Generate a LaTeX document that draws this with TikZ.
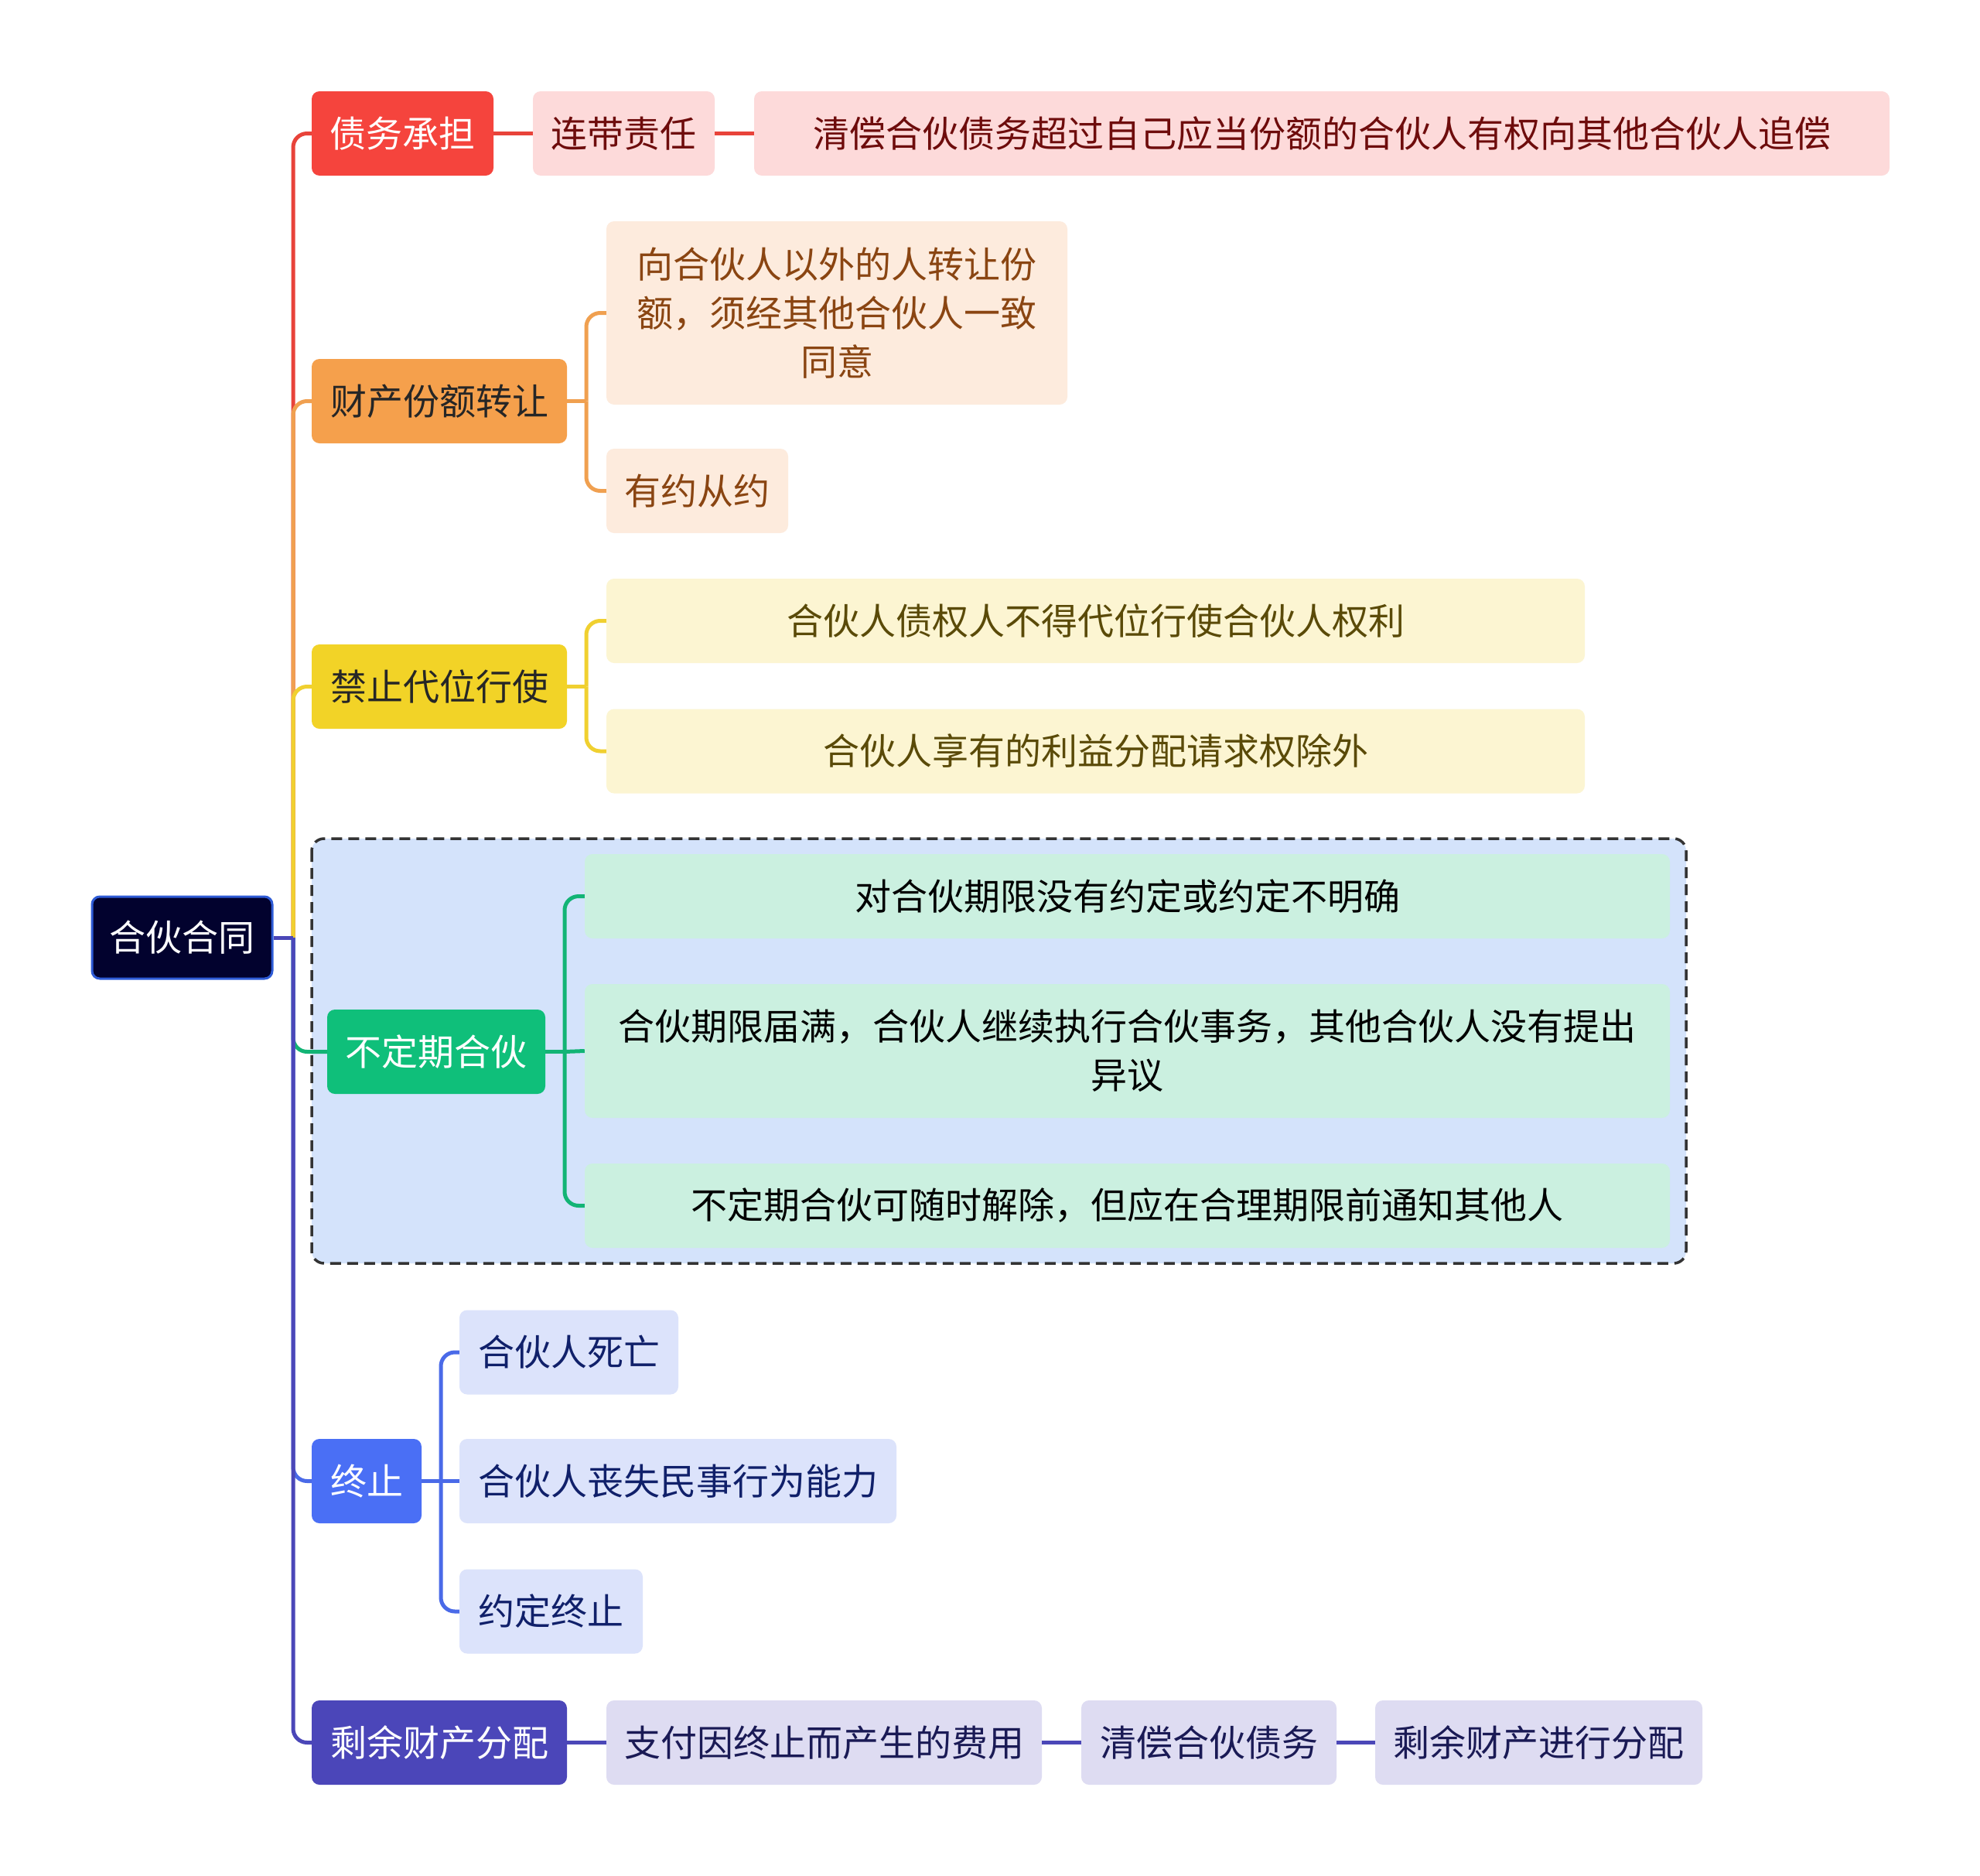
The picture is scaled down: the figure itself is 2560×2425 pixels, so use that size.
\documentclass[tikz,border=0pt]{standalone}
\usepackage{fontspec}
\newfontfamily\cjk{Noto Sans CJK SC}
\definecolor{rootfill}{HTML}{02022E}
\definecolor{rootdraw}{HTML}{2E5BD6}
\definecolor{cred}{HTML}{F5443D}
\definecolor{lred}{HTML}{E8433A}
\definecolor{pred}{HTML}{FDDADA}
\definecolor{tred}{HTML}{6E0C0C}
\definecolor{corange}{HTML}{F5A04C}
\definecolor{lorange}{HTML}{F0A050}
\definecolor{porange}{HTML}{FDEBDD}
\definecolor{torange}{HTML}{8A4512}
\definecolor{cyellow}{HTML}{F2D327}
\definecolor{lyellow}{HTML}{F0D030}
\definecolor{pyellow}{HTML}{FCF5D2}
\definecolor{tyellow}{HTML}{5A4A08}
\definecolor{cgreen}{HTML}{0FBF7A}
\definecolor{lgreen}{HTML}{12B475}
\definecolor{pgreen}{HTML}{CBF0E0}
\definecolor{cblue}{HTML}{4A6FF5}
\definecolor{lblue}{HTML}{4A6AE8}
\definecolor{pblue}{HTML}{DCE3FB}
\definecolor{tblue}{HTML}{10206A}
\definecolor{cpurple}{HTML}{4B46B9}
\definecolor{lpurple}{HTML}{4B47B8}
\definecolor{ppurple}{HTML}{DEDCF2}
\definecolor{tpurple}{HTML}{1A1A55}
\definecolor{boxfill}{HTML}{D4E3FB}
\definecolor{boxdraw}{HTML}{333333}
\tikzset{
  mm/.style={rounded corners=10pt, inner sep=0pt, align=center,
    font=\cjk\fontsize{47}{63}\selectfont, minimum height=109pt},
  conn/.style={line width=5pt},
  forkc/.style={line width=5pt, rounded corners=18pt},
}
\begin{document}
\begin{tikzpicture}[x=1pt,y=-1pt]
\useasboundingbox[fill=white] (0,0) rectangle (2560,2425);
% dashed group box
\draw[fill=boxfill, draw=boxdraw, line width=3.5pt, dash pattern=on 14pt off 8pt, rounded corners=16pt]
  (403,1084) rectangle (2180,1633);

% nodes
\node[mm, fill=rootfill, draw=rootdraw, line width=3pt, text=white, minimum width=233pt, minimum height=106pt] (root) at (235.5,1212) {合伙合同};

\node[mm, fill=cred, text=white, minimum width=235pt] (b1) at (520.5,172.5) {债务承担};
\node[mm, fill=pred, text=tred, minimum width=235pt] (c11) at (806.5,172.5) {连带责任};
\node[mm, fill=pred, text=tred, minimum width=1468pt] (c12) at (1709,172.5) {清偿合伙债务超过自己应当份额的合伙人有权向其他合伙人追偿};

\node[mm, fill=corange, text=black!85, minimum width=330pt] (b2) at (568,518.5) {财产份额转让};
\node[mm, fill=porange, text=torange, minimum width=596pt, minimum height=237pt] (c21) at (1082,404.5) {向合伙人以外的人转让份\\额，须经其他合伙人一致\\同意};
\node[mm, fill=porange, text=torange, minimum width=235pt] (c22) at (901.5,634.5) {有约从约};

\node[mm, fill=cyellow, text=black!85, minimum width=330pt] (b3) at (568,887.5) {禁止代位行使};
\node[mm, fill=pyellow, text=tyellow, minimum width=1265pt] (c31) at (1416.5,802.5) {合伙人债权人不得代位行使合伙人权利};
\node[mm, fill=pyellow, text=tyellow, minimum width=1265pt] (c32) at (1416.5,971) {合伙人享有的利益分配请求权除外};

\node[mm, fill=cgreen, text=white, minimum width=282pt] (b4) at (564,1359.5) {不定期合伙};
\node[mm, fill=pgreen, text=black, minimum width=1403pt] (c41) at (1457.5,1158.5) {对合伙期限没有约定或约定不明确};
\node[mm, fill=pgreen, text=black, minimum width=1403pt, minimum height=173pt] (c42) at (1457.5,1358.5) {合伙期限届满，合伙人继续执行合伙事务，其他合伙人没有提出\\异议};
\node[mm, fill=pgreen, text=black, minimum width=1403pt] (c43) at (1457.5,1558.5) {不定期合伙可随时解除，但应在合理期限前通知其他人};

\node[mm, fill=cblue, text=white, minimum width=142pt] (b5) at (474,1914.5) {终止};
\node[mm, fill=pblue, text=tblue, minimum width=283pt] (c51) at (735.5,1748) {合伙人死亡};
\node[mm, fill=pblue, text=tblue, minimum width=565pt] (c52) at (876.5,1914.5) {合伙人丧失民事行为能力};
\node[mm, fill=pblue, text=tblue, minimum width=237pt] (c53) at (712.5,2083) {约定终止};

\node[mm, fill=cpurple, text=white, minimum width=330pt] (b6) at (568,2252.5) {剩余财产分配};
\node[mm, fill=ppurple, text=tpurple, minimum width=563pt] (c61) at (1065.5,2252.5) {支付因终止而产生的费用};
\node[mm, fill=ppurple, text=tpurple, minimum width=330pt] (c62) at (1563,2252.5) {清偿合伙债务};
\node[mm, fill=ppurple, text=tpurple, minimum width=423pt] (c63) at (1989.5,2252.5) {剩余财产进行分配};

% spine
\coordinate (sp) at (379,1212);
\draw[forkc, lred] (sp) |- (b1.west);
\draw[forkc, lorange] (sp) |- (b2.west);
\draw[forkc, lyellow] (sp) |- (b3.west);
\draw[forkc, lgreen] (sp) |- (b4.west);
\draw[forkc, lblue] (sp) |- (b5.west);
\draw[forkc, lpurple] (sp) |- (b6.west);
\draw[conn, lpurple] (root.east) -- (sp);

% branch 1
\draw[conn, lred] (b1.east) -- (c11.west);
\draw[conn, lred] (c11.east) -- (c12.west);

% branch 2
\coordinate (f2) at (758,518.5);
\draw[conn, lorange] (b2.east) -- (f2);
\draw[forkc, lorange] (f2) |- (c21.west);
\draw[forkc, lorange] (f2) |- (c22.west);

% branch 3
\coordinate (f3) at (758,887.5);
\draw[conn, lyellow] (b3.east) -- (f3);
\draw[forkc, lyellow] (f3) |- (c31.west);
\draw[forkc, lyellow] (f3) |- (c32.west);

% branch 4
\coordinate (f4) at (730,1359.5);
\draw[conn, lgreen] (b4.east) -- (f4);
\draw[forkc, lgreen] (f4) |- (c41.west);
\draw[conn, lgreen] (f4) -- (c42.west);
\draw[forkc, lgreen] (f4) |- (c43.west);

% branch 5
\coordinate (f5) at (570,1914.5);
\draw[conn, lblue] (b5.east) -- (f5);
\draw[forkc, lblue] (f5) |- (c51.west);
\draw[conn, lblue] (f5) -- (c52.west);
\draw[forkc, lblue] (f5) |- (c53.west);

% branch 6
\draw[conn, lpurple] (b6.east) -- (c61.west);
\draw[conn, lpurple] (c61.east) -- (c62.west);
\draw[conn, lpurple] (c62.east) -- (c63.west);
\end{tikzpicture}
\end{document}
